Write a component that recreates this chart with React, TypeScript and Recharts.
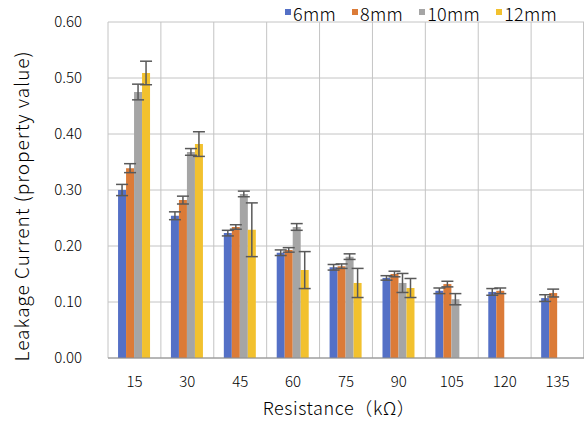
import React from "react";
import {
  Bar,
  BarChart,
  CartesianGrid,
  ErrorBar,
  Label,
  XAxis,
  YAxis,
} from "recharts";

const resistance = ["15", "30", "45", "60", "75", "90", "105", "120", "135"];

const mm6 = [0.3, 0.254, 0.223, 0.188, 0.162, 0.143, 0.12, 0.118, 0.107];
const mm6Err = [0.01, 0.007, 0.005, 0.005, 0.005, 0.004, 0.005, 0.006, 0.006];

const mm8 = [0.339, 0.282, 0.234, 0.193, 0.164, 0.15, 0.132, 0.12, 0.116];
const mm8Err = [0.008, 0.007, 0.004, 0.004, 0.004, 0.005, 0.005, 0.005, 0.007];

const mm10 = [0.475, 0.368, 0.293, 0.234, 0.181, 0.134, 0.105, null, null];
const mm10Err = [0.014, 0.006, 0.005, 0.006, 0.005, 0.017, 0.01, null, null];

const mm12 = [0.509, 0.382, 0.229, 0.157, 0.134, 0.125, null, null, null];
const mm12Err = [0.021, 0.022, 0.048, 0.033, 0.026, 0.017, null, null, null];

const yTicks = [0, 0.1, 0.2, 0.3, 0.4, 0.5, 0.6];

const series = [
  { key: "mm6", name: "6mm", color: "#5470C6" },
  { key: "mm8", name: "8mm", color: "#DB7B38" },
  { key: "mm10", name: "10mm", color: "#A5A5A5" },
  { key: "mm12", name: "12mm", color: "#F2C12E" },
];

const data = resistance.map((r, i) => ({
  r,
  mm6: mm6[i],
  mm6Err: mm6Err[i],
  mm8: mm8[i],
  mm8Err: mm8Err[i],
  mm10: mm10[i],
  mm10Err: mm10Err[i],
  mm12: mm12[i],
  mm12Err: mm12Err[i],
}));

const FONT = "'Noto Sans CJK JP', 'Noto Sans', sans-serif";
const WEIGHT = 300;
const TEXT = "#000";

// legend sits over the top margin, like Excel's
function LegendBox() {
  return (
    <div
      style={{
        position: "absolute",
        left: 285,
        top: 0,
        display: "flex",
        fontFamily: FONT,
        fontWeight: WEIGHT,
        fontSize: 18,
        letterSpacing: 0.3,
        color: TEXT,
        lineHeight: "26px",
      }}
    >
      {series.map((s) => (
        <div key={s.key} style={{ display: "flex", alignItems: "center", marginRight: 16 }}>
          <span
            style={{ width: 6, height: 6, background: s.color, display: "inline-block", marginRight: 2, marginTop: -3 }}
          />
          <span>{s.name}</span>
        </div>
      ))}
    </div>
  );
}

export default function App() {
  return (
    <div style={{ position: "absolute", left: 0, top: 0, width: 584, height: 421, background: "#fff" }}>
      <BarChart
        width={584}
        height={421}
        data={data}
        margin={{ top: 22, right: 0, left: 0, bottom: 0 }}
        barCategoryGap="19%"
        barGap={0}
      >
        <CartesianGrid
          stroke="#c4c4c4"
          strokeWidth={1}
          verticalCoordinatesGenerator={({ offset }: any) =>
            resistance
              .map((_, i) => offset.left + (i * offset.width) / resistance.length)
              .concat([offset.left + offset.width - 0.5])
          }
        />
        <XAxis
          dataKey="r"
          height={63}
          stroke="#8c8c8c"
          tickLine={false}
          tickMargin={12}
          tick={{ fill: TEXT, fontSize: 15, fontFamily: FONT, fontWeight: WEIGHT }}
        >
          <Label
            content={({ viewBox }: any) => (
              <text
                x={viewBox.x + viewBox.width / 2 - 7}
                y={407}
                textAnchor="middle"
                dominantBaseline="central"
                fill={TEXT}
                fontSize={18}
                letterSpacing={0.6}
                fontFamily={FONT}
                fontWeight={WEIGHT}
              >
                Resistance（kΩ）
              </text>
            )}
          />
        </XAxis>
        <YAxis
          width={108}
          domain={[0, 0.6]}
          ticks={yTicks}
          axisLine={false}
          tickLine={false}
          tickFormatter={(v: number) => v.toFixed(2)}
          tick={{ fill: TEXT, fontSize: 15, fontFamily: FONT, fontWeight: WEIGHT, dx: -18 }}
        >
          <Label
            content={({ viewBox }: any) => {
              const cx = 20;
              const cy = viewBox.y + viewBox.height / 2 + 16;
              return (
                <text
                  x={cx}
                  y={cy}
                  transform={`rotate(-90 ${cx} ${cy})`}
                  textAnchor="middle"
                  dominantBaseline="central"
                  fill={TEXT}
                  fontSize={19}
                  letterSpacing={1}
                  fontFamily={FONT}
                  fontWeight={WEIGHT}
                >
                  Leakage Current (property value)
                </text>
              );
            }}
          />
        </YAxis>
        {series.map((s) => (
          <Bar key={s.key} dataKey={s.key} name={s.name} fill={s.color} isAnimationActive={false}>
            <ErrorBar dataKey={`${s.key}Err`} width={6} stroke="#595959" strokeWidth={1.5} />
          </Bar>
        ))}
      </BarChart>
      <LegendBox />
    </div>
  );
}
